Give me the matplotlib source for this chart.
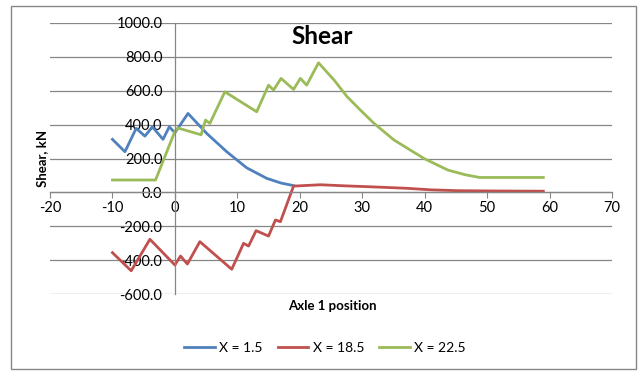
import matplotlib.pyplot as plt
from matplotlib.patches import Rectangle

# series (axle 1 position, shear kN)
x_blue = [-10, -8, -6.2, -4.8, -3.6, -1.9, -0.9, 0, 2.1, 5.1, 8.3, 11.5, 14.7, 17, 19]
y_blue = [313, 240, 378, 332, 387, 313, 387, 352, 466, 348, 240, 145, 83, 55, 40]

x_red = [-10, -7, -4, 0, 0.9, 2, 4, 9.1, 11, 11.8, 13, 15, 16.1, 16.9, 19,
         23.3, 27.6, 32, 37.2, 41, 45.3, 52, 59]
y_red = [-356, -463, -277, -429, -376, -423, -291, -454, -301, -317, -226, -258,
         -163, -173, 37, 45, 38, 32, 24, 15, 10, 8, 7]

x_green = [-10, -3.1, 0, 0.5, 4.2, 4.9, 5.6, 8.0, 13.1, 15, 15.8, 17, 19, 20.1,
           21.1, 23, 25.5, 27.6, 29.7, 31.9, 35.1, 39.9, 43.7, 46.5, 48.8, 59]
y_green = [73, 73, 360, 380, 340, 427, 407, 594, 476, 633, 604, 673, 608, 673,
           633, 765, 663, 564, 486, 407, 309, 200, 132, 104, 88, 88]

labels = ["X = 1.5", "X = 18.5", "X = 22.5"]
colors = ["#4F81BD", "#C0504D", "#9BBB59"]

plt.rcParams['font.family'] = ['Lato', 'DejaVu Sans']
plt.rcParams['axes.unicode_minus'] = False

fig = plt.figure(figsize=(6.4, 3.75), dpi=100)
ax = fig.add_axes([50 / 640, 1 - 294 / 375, 562 / 640, 271 / 375])

for xs, ys, lab, c in zip([x_blue, x_red, x_green], [y_blue, y_red, y_green], labels, colors):
    ax.plot(xs, ys, color=c, linewidth=2, label=lab)

ax.set_xlim(-20, 70)
ax.set_ylim(-600, 1000)
ax.set_xticks(range(-20, 71, 10))
ax.set_yticks(range(-600, 1001, 200))
ax.set_yticklabels([f"{v:.1f}" for v in range(-600, 1001, 200)])

ax.spines['left'].set_position(('data', 0))
ax.spines['bottom'].set_position(('data', 0))
ax.spines['top'].set_visible(False)
ax.spines['right'].set_visible(False)
for s in ['left', 'bottom']:
    ax.spines[s].set_color('#868686')
    ax.spines[s].set_linewidth(0.9)

ax.grid(axis='y', color='#868686', linewidth=0.9)
ax.set_axisbelow(True)
ax.tick_params(axis='x', direction='out', length=4, color='#868686', labelsize=10.5, pad=2)
ax.tick_params(axis='y', length=0, labelsize=10.5, pad=9)

fig.text(322 / 640, 1 - 36 / 375, "Shear", ha='center', va='center',
         fontsize=17.5, fontweight='bold')
fig.text(42 / 640, 1 - 158 / 375, "Shear, kN", ha='center', va='center',
         rotation=90, fontsize=9.5, fontweight='bold')
fig.text(332 / 640, 1 - 306 / 375, "Axle 1 position", ha='center', va='center',
         fontsize=9.5, fontweight='bold')

fig.legend(loc='center', bbox_to_anchor=(325 / 640, 1 - 348 / 375), ncol=3,
           frameon=False, fontsize=10, handlelength=2.2, columnspacing=1.1,
           handletextpad=0.3)

fig.patches.append(Rectangle((11 / 640, 1 - 369 / 375), 625 / 640, 363 / 375,
                             transform=fig.transFigure, fill=False,
                             edgecolor='#868686', linewidth=1))

fig.savefig("out.png", dpi=100)
